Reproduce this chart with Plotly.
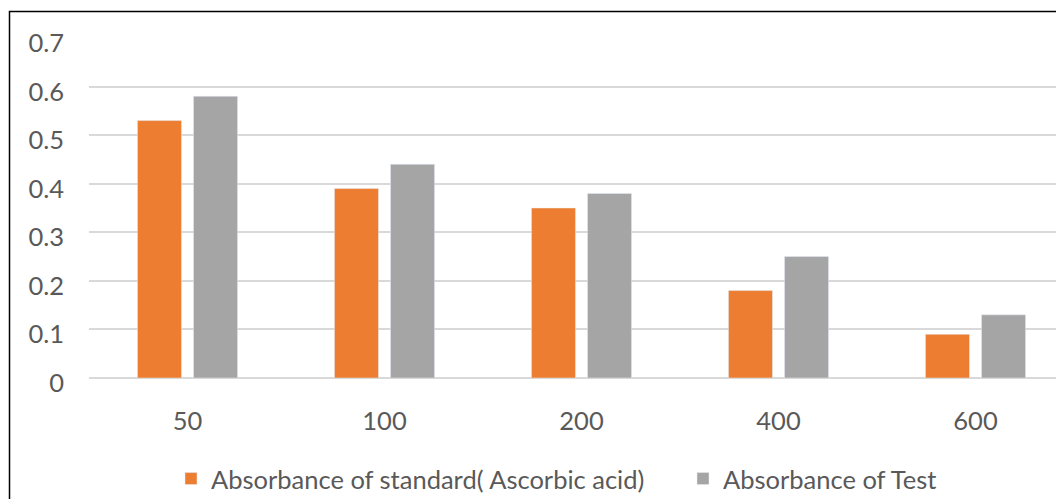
import plotly.graph_objects as go

categories = ["50", "100", "200", "400", "600"]
standard = [0.53, 0.39, 0.35, 0.18, 0.09]
test = [0.58, 0.44, 0.38, 0.25, 0.13]
series_names = ["Absorbance of standard( Ascorbic acid)", "Absorbance of Test"]

W, H = 1056, 499
L, T = 89, 38
PW, PH = W - L, 340
B = H - T - PH

FONT = "Lato, sans-serif"
FS = 25.5

fig = go.Figure()
fig.add_trace(go.Bar(x=categories, y=standard, name=series_names[0], marker_color="#ED7D31",
                     legend="legend"))
fig.add_trace(go.Bar(x=categories, y=test, name=series_names[1], marker_color="#A5A5A5",
                     legend="legend2"))

def px_x(p):
    return (p - L) / PW

def px_y(p):
    return (T + PH - p) / PH

leg_common = dict(orientation="h", xanchor="left", yanchor="middle",
                  font=dict(size=FS, color="#595959"), bgcolor="rgba(0,0,0,0)")

fig.update_layout(
    width=W, height=H,
    margin=dict(l=L, r=0, t=T, b=B, autoexpand=False),
    paper_bgcolor="white", plot_bgcolor="white",
    barmode="group", bargap=0.431, bargroupgap=0.214,
    font=dict(family=FONT, size=FS, color="#595959"),
    xaxis=dict(type="category", range=[-0.5, -0.5 + PW / 197.0], showgrid=False,
               showline=False, ticks="", ticklabelstandoff=25,
               tickfont=dict(size=FS, color="#595959")),
    yaxis=dict(range=[0, 0.7], dtick=0.1, tick0=0, showgrid=True, gridcolor="#D9D9D9",
               gridwidth=2, zeroline=True, zerolinecolor="#D9D9D9", zerolinewidth=2,
               showline=False, ticks="", ticklabelstandoff=24, ticklabelshift=5,
               tickformat=".1~f", tickfont=dict(size=FS, color="#595959")),
    showlegend=True,
    legend=dict(x=px_x(171), y=px_y(479), **leg_common),
    legend2=dict(x=px_x(683), y=px_y(479), **leg_common),
    shapes=[dict(type="rect", xref="paper", yref="paper",
                 x0=px_x(9.5), x1=px_x(1070), y0=px_y(520), y1=px_y(11.5),
                 line=dict(color="black", width=1.5), fillcolor="rgba(0,0,0,0)", layer="above")],
)

fig.write_html("out.html")
